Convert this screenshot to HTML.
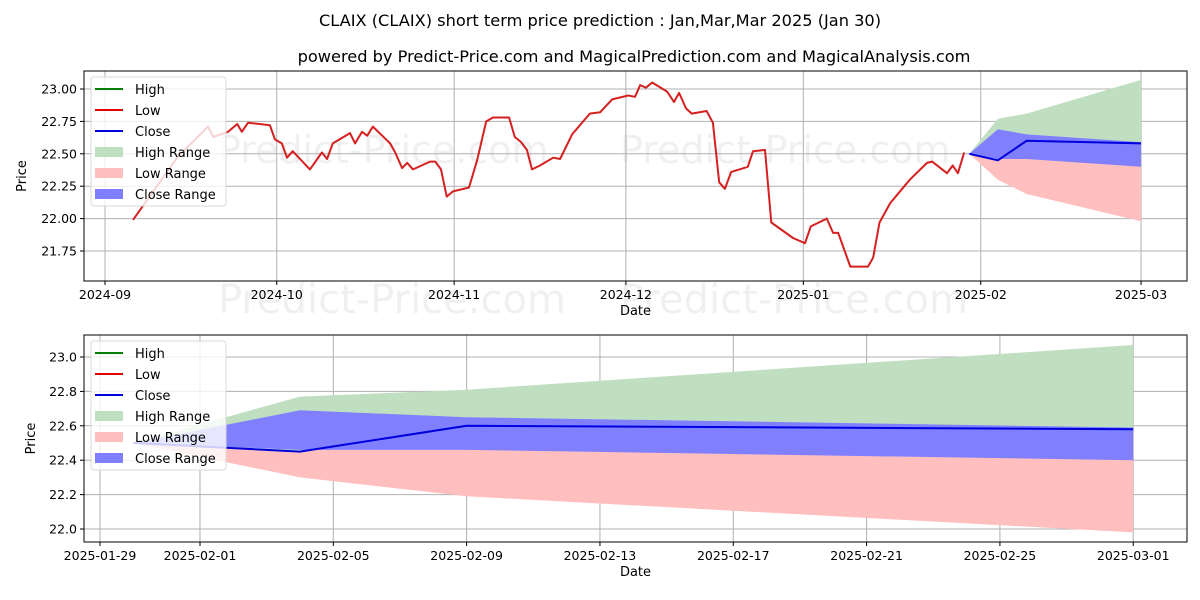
<!DOCTYPE html>
<html><head><meta charset="utf-8"><style>
html,body{margin:0;padding:0;background:#fff;}
svg{display:block;font-family:"DejaVu Sans","Liberation Sans",sans-serif;}
</style></head><body>
<svg id="chart" width="1200" height="600" viewBox="0 0 1200 600" xmlns="http://www.w3.org/2000/svg">
<text x="600" y="26" text-anchor="middle" font-size="16.2" fill="#000">CLAIX (CLAIX) short term price prediction : Jan,Mar,Mar 2025 (Jan 30)</text>
<text x="634" y="62" text-anchor="middle" font-size="16.2" fill="#000">powered by Predict-Price.com and MagicalPrediction.com and MagicalAnalysis.com</text>
<g id="topPanelG"></g>
<g id="botPanelG"></g>
</svg>
<script>
// ---- data ----
// history: day offset from 2024-09-01, and low price
const histDays = [4.9,12.6,18.0,18.9,21.5,23.1,23.9,25.0,28.8,29.7,30.9,31.8,32.8,35.8,37.9,38.8,39.8,42.8,43.7,44.9,45.8,46.8,49.8,50.7,51.9,52.8,53.8,56.8,57.7,58.7,59.7,60.8,63.6,65.0,66.6,67.8,70.6,71.6,72.7,73.7,74.6,76.0,78.3,79.5,81.6,84.7,86.5,88.6,91.4,92.6,93.5,94.5,95.6,98.2,99.4,100.3,101.5,102.5,105.1,106.2,107.3,108.3,109.4,112.3,113.2,115.3,116.4,120.2,122.3,123.3,126.1,127.2,128.1,130.2,133.3,134.2,135.3,137.2,140.6,143.6,144.5,147.1,148.1,149.0,150.1];
const histLow = [21.99,22.47,22.71,22.63,22.67,22.73,22.67,22.74,22.72,22.61,22.58,22.47,22.52,22.38,22.51,22.46,22.58,22.66,22.58,22.67,22.64,22.71,22.58,22.51,22.39,22.43,22.38,22.44,22.44,22.38,22.17,22.21,22.24,22.45,22.75,22.78,22.78,22.63,22.59,22.53,22.38,22.41,22.47,22.46,22.65,22.81,22.82,22.92,22.95,22.94,23.03,23.01,23.05,22.98,22.90,22.97,22.85,22.81,22.83,22.74,22.28,22.23,22.36,22.40,22.52,22.53,21.97,21.85,21.81,21.94,22.00,21.89,21.89,21.63,21.63,21.70,21.97,22.12,22.30,22.43,22.44,22.35,22.41,22.35,22.51];
// forecast: day offset from 2025-01-29
const fcDays = [1, 6, 11, 31];
const fcClose = [22.50, 22.45, 22.60, 22.58];
const fcHighUp = [22.50, 22.77, 22.81, 23.07];
const fcCloseUp = [22.50, 22.69, 22.65, 22.59];
const fcCloseLo = [22.50, 22.46, 22.46, 22.40];
const fcLowLo = [22.50, 22.30, 22.19, 21.98];
const topTickLabels = ["2024-09","2024-10","2024-11","2024-12","2025-01","2025-02","2025-03"];
const topTickDays = [0,30,61,91,122,153,181];
const topYTicks = [21.75,22.00,22.25,22.50,22.75,23.00];
const botTickLabels = ["2025-01-29","2025-02-01","2025-02-05","2025-02-09","2025-02-13","2025-02-17","2025-02-21","2025-02-25","2025-03-01"];
const botTickDays = [0,3,7,11,15,19,23,27,31];
const botYTicks = [22.0,22.2,22.4,22.6,22.8,23.0];
const FC_OFFSET = 150; // 2025-01-29 relative to 2024-09-01

const NS = "http://www.w3.org/2000/svg";
function mk(parent, tag, attrs, text){
  const e = document.createElementNS(NS, tag);
  for (const k in attrs) e.setAttribute(k, attrs[k]);
  if (text !== undefined) e.textContent = text;
  parent.appendChild(e);
  return e;
}
function poly(xs, ys){ return xs.map((x,i)=>x.toFixed(1)+","+ys[i].toFixed(1)).join(" "); }

function panel(g, cfg){
  const {L,R,T,B,xf,yf,xTicks,xLabels,yTicks,yFmt,hist,fcOff,wm} = cfg;
  wm.forEach(w=>{
    const t = mk(g,"text",{x:w[0],y:w[1],"font-size":w[2],fill:"#000","fill-opacity":"0.06"},"Predict-Price.com");
    
    
  });
  xTicks.forEach((d,i)=>{
    const x = xf(d);
    const l = mk(g,"line",{x1:x,x2:x,y1:T,y2:B,stroke:"#b0b0b0","stroke-width":1});
    
    
    mk(g,"line",{x1:x,x2:x,y1:B,y2:B+4,stroke:"#000","stroke-width":1});
    const t = mk(g,"text",{x:x,y:B+18,"text-anchor":"middle","font-size":12.5,fill:"#000"},xLabels[i]);
    
    
  });
  yTicks.forEach(v=>{
    const y = yf(v);
    const l = mk(g,"line",{x1:L,x2:R,y1:y,y2:y,stroke:"#b0b0b0","stroke-width":1});
    
    
    mk(g,"line",{x1:L-4,x2:L,y1:y,y2:y,stroke:"#000","stroke-width":1});
    const t = mk(g,"text",{x:L-7,y:y+4.5,"text-anchor":"end","font-size":12.5,fill:"#000"},yFmt(v));
    
    
  });
  const fx = fcDays.map(d=>xf(d+fcOff));
  const rx = fx.slice().reverse();
  const green = mk(g,"polygon",{points:poly(fx,fcHighUp.map(yf))+" "+poly(rx,fcClose.map(yf).reverse()),fill:"#c0dfc0"});
  
  
  const red = mk(g,"polygon",{points:poly(fx,fcClose.map(yf))+" "+poly(rx,fcLowLo.map(yf).reverse()),fill:"#ffbfbf"});
  
  
  const blue = mk(g,"polygon",{points:poly(fx,fcCloseUp.map(yf))+" "+poly(rx,fcCloseLo.map(yf).reverse()),fill:"#8080ff"});
  
  
  if (hist){
    const hl = mk(g,"polyline",{points:poly(histDays.map(xf),histLow.map(yf)),fill:"none",stroke:"#d62020","stroke-width":2,"stroke-linejoin":"round"});
    
    
  }
  const cl = mk(g,"polyline",{points:poly(fx,fcClose.map(yf)),fill:"none",stroke:"#0000dd","stroke-width":2});
  
  
  const fr = mk(g,"rect",{x:L,y:T,width:R-L,height:B-T,fill:"none",stroke:"#000","stroke-width":1});
  
  
  const xt = mk(g,"text",{x:(L+R)/2,y:B+34,"text-anchor":"middle","font-size":13,fill:"#000"},"Date");
  
  
  const yc = (T+B)/2;
  const yt = mk(g,"text",{x:0,y:0,transform:`translate(${cfg.yTitleX},${yc}) rotate(-90)`,"text-anchor":"middle","font-size":13,fill:"#000"},"Price");
  
  
  const lx = L+7, ly = T+6;
  const lg = mk(g,"g",{});
  
  
  mk(lg,"rect",{x:lx,y:ly,width:135,height:129,rx:3,fill:"#fff","fill-opacity":"0.8",stroke:"#d8d8d8"});
  const items = [["High","line","#008000"],["Low","line","#e00000"],["Close","line","#0000dd"],["High Range","box","#c0dfc0"],["Low Range","box","#ffbfbf"],["Close Range","box","#8080ff"]];
  items.forEach((it,i)=>{
    const y = ly+12+i*21;
    const e = mk(lg,"g",{});
    
    
    if (it[1]==="line") mk(e,"line",{x1:lx+4,x2:lx+32,y1:y,y2:y,stroke:it[2],"stroke-width":2});
    else mk(e,"rect",{x:lx+4,y:y-5,width:28,height:10,fill:it[2]});
    mk(e,"text",{x:lx+44,y:y+5,"font-size":13,fill:"#000"},it[0]);
  });
}

const topPanel = document.getElementById("topPanelG");
panel(topPanel,{L:84,R:1187,T:71,B:281,
  xf:d=>105+d*5.724, yf:v=>89+(23-v)*129.6,
  xTicks:topTickDays, xLabels:topTickLabels, yTicks:topYTicks, yFmt:v=>v.toFixed(2),
  hist:true, fcOff:FC_OFFSET, yTitleX:26,
  wm:[[218,163,38],[620,163,38],[218,313,40],[620,313,40]]});
const botPanel = document.getElementById("botPanelG");
panel(botPanel,{L:84,R:1187,T:335,B:542,
  xf:d=>100+d*33.33, yf:v=>357+(23-v)*172,
  xTicks:botTickDays, xLabels:botTickLabels, yTicks:botYTicks, yFmt:v=>v.toFixed(1),
  hist:false, fcOff:0, yTitleX:35,
  wm:[[200,460,38],[620,460,38]]});
</script>
</body></html>
